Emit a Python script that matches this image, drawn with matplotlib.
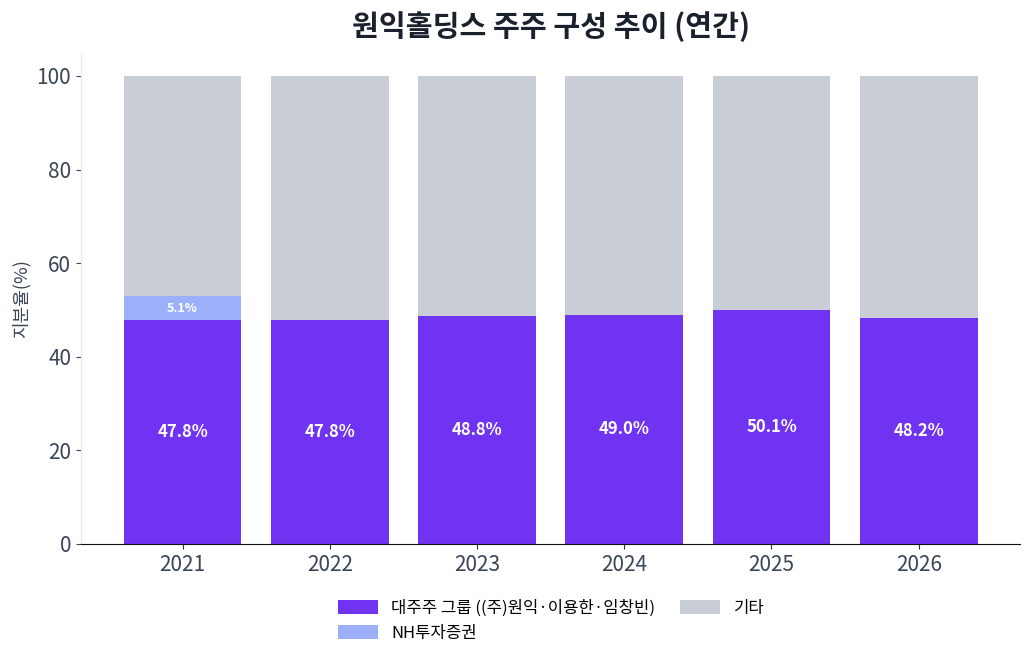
import matplotlib
matplotlib.use("Agg")
import matplotlib.pyplot as plt
import numpy as np

plt.rcParams['font.family'] = ['Noto Sans CJK KR', 'DejaVu Sans']

years = ["2021", "2022", "2023", "2024", "2025", "2026"]
major = [47.8, 47.8, 48.8, 49.0, 50.1, 48.2]
nh = [5.1, 0, 0, 0, 0, 0]
others = [round(100 - a - b, 1) for a, b in zip(major, nh)]

labels = ["대주주 그룹 ((주)원익·이용한·임창빈)", "NH투자증권", "기타"]
colors = ["#7033F1", "#9BB0F8", "#C9CDD6"]

fig = plt.figure(figsize=(10.3, 6.57), dpi=100)
ax = fig.add_axes([0.0786, 0.172, 0.912, 0.748])

x = np.arange(len(years))
w = 0.8
b1 = ax.bar(x, major, w, color=colors[0], label=labels[0])
b2 = ax.bar(x, nh, w, bottom=major, color=colors[1], label=labels[1])
bot3 = [a + b for a, b in zip(major, nh)]
b3 = ax.bar(x, others, w, bottom=bot3, color=colors[2], label=labels[2])

for i, v in enumerate(major):
    ax.text(x[i], v / 2, f"{v:.1f}%", ha="center", va="center", color="white",
            fontsize=12, fontweight="bold")
for i, v in enumerate(nh):
    if v > 0:
        ax.text(x[i], major[i] + v / 2, f"{v:.1f}%", ha="center", va="center",
                color="white", fontsize=9, fontweight="bold")

ax.set_xticks(x)
ax.set_xticklabels(years)
ax.set_ylim(0, 105)
ax.set_yticks([0, 20, 40, 60, 80, 100])
ax.tick_params(axis="both", labelsize=15, colors="#333333", labelcolor="#3A4556")
ax.tick_params(axis="y", color="#444444")
for s in ["top", "right"]:
    ax.spines[s].set_visible(False)
ax.spines["left"].set_color("#E8E8E8")
ax.spines["bottom"].set_color("#111111")

ax.set_ylabel("지분율(%)", fontsize=13, color="#3A4556")
ax.set_title("원익홀딩스 주주 구성 추이 (연간)", fontsize=21, fontweight="bold",
             color="#1A202C", pad=12)

fig.legend(handles=[b1, b2, b3], labels=labels, loc="lower center",
           bbox_to_anchor=(0.535, 0.0), ncol=2, frameon=False, fontsize=12,
           handlelength=2.4, handleheight=0.9, columnspacing=1.5)

fig.savefig("out.png", dpi=100)
